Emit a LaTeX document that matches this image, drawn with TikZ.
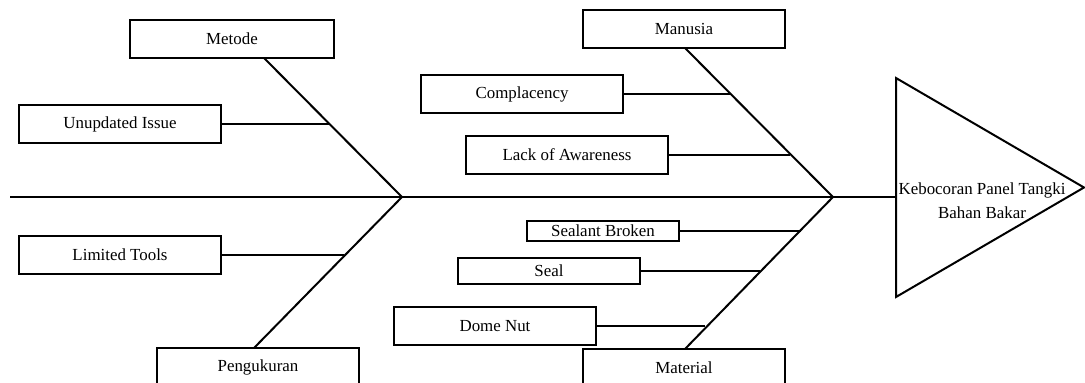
\documentclass[tikz,border=0pt]{standalone}
\usepackage{fontspec}
\setmainfont{Liberation Serif}
\begin{document}
\begin{tikzpicture}[x=1pt,y=-1pt,
  line width=2pt,
  cause/.style={draw, line width=2pt, minimum height=38pt, inner sep=0pt, font=\fontsize{16.9}{24}\selectfont},
  bone/.style={line width=2pt},
  lbl/.style={font=\fontsize{16.9}{24}\selectfont, align=center, inner sep=0pt}]
\useasboundingbox (0,0) rectangle (1085,383);
\clip (0,0) rectangle (1085,383);
% main causes
\node[cause, minimum width=204pt] (metode) at (232,39) {Metode};
\node[cause, minimum width=202pt] (peng) at (258,367) {Pengukuran};
\node[cause, minimum width=202pt] (manusia) at (684,29) {Manusia};
\node[cause, minimum width=202pt] (material) at (684,368) {Material};
% sub causes
\node[cause, minimum width=202pt] (unupd) at (120,124) {Unupdated Issue};
\node[cause, minimum width=202pt] (limited) at (120,255) {Limited Tools};
\node[cause, minimum width=202pt] (compl) at (522,94) {Complacency};
\node[cause, minimum width=202pt] (lack) at (567,155) {Lack of Awareness};
\node[cause, minimum width=152pt, minimum height=20pt] (sealant) at (603,231) {Sealant Broken};
\node[cause, minimum width=182pt, minimum height=26pt] (seal) at (549,271) {Seal};
\node[cause, minimum width=202pt] (dome) at (495,326) {Dome Nut};
% coordinates
\coordinate (tail) at (10,197);
\coordinate (j1) at (402,197);
\coordinate (j2) at (833,197);
\coordinate (tA) at (896,78);
\coordinate (tB) at (896,297);
\coordinate (tC) at (1084,187.5);
\coordinate (head) at (896,197);
\coordinate (mS) at (264,58);
\coordinate (pN) at (254,348);
\coordinate (maS) at (685,48);
\coordinate (matN) at (685,349);
\coordinate (eU) at (330,124);
\coordinate (eL) at (344,255);
\coordinate (eC) at (730,94);
\coordinate (eA) at (790,155);
\coordinate (eSB) at (801,231);
\coordinate (eS) at (760,271);
\coordinate (eD) at (705,326);
% spine and head
\draw[bone] (tail) -- (head);
\draw[bone, line join=miter] (tA) -- (tC) -- (tB) -- cycle;
\node[lbl] (effect) at (982,200.5) {Kebocoran Panel Tangki\\Bahan Bakar};
% bones
\draw[bone] (mS) -- (j1);
\draw[bone] (pN) -- (j1);
\draw[bone] (maS) -- (j2);
\draw[bone] (matN) -- (j2);
% twigs
\draw[bone] (unupd.east) -- (eU);
\draw[bone] (limited.east) -- (eL);
\draw[bone] (compl.east) -- (eC);
\draw[bone] (lack.east) -- (eA);
\draw[bone] (sealant.east) -- (eSB);
\draw[bone] (seal.east) -- (eS);
\draw[bone] (dome.east) -- (eD);
\end{tikzpicture}
\end{document}
